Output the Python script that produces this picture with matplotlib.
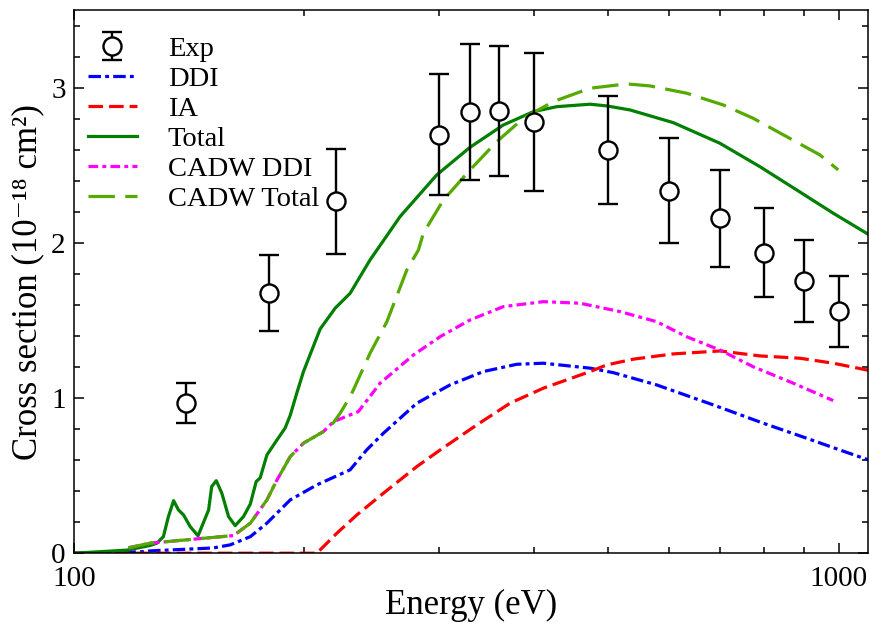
import matplotlib
matplotlib.use("Agg")
import matplotlib.pyplot as plt
from matplotlib import ticker

plt.rcParams['font.family'] = ['Liberation Serif', 'DejaVu Serif']
plt.rcParams['lines.scale_dashes'] = False

# experimental points
exp_e = [140, 180, 220, 300, 330, 360, 400, 500, 600, 700, 800, 900, 1000]
exp_cs = [0.97, 1.68, 2.27, 2.70, 2.845, 2.855, 2.78, 2.60, 2.34, 2.16, 1.94, 1.757, 1.56]
exp_err = [0.13, 0.245, 0.34, 0.39, 0.44, 0.42, 0.445, 0.35, 0.34, 0.315, 0.285, 0.263, 0.23]

# DDI
ddi_e = [100, 123.2, 125.8, 152.1, 160.1, 170.1, 178.8, 191.8, 207.8, 229.7, 241.5,
         253.9, 280.8, 310.4, 343.1, 379.4, 411.1, 473.1, 507.5, 578.1, 685.6,
         796.8, 908.2, 1004, 1100]
ddi_cs = [0.0, 0.01, 0.015, 0.034, 0.054, 0.107, 0.194, 0.344, 0.441, 0.538, 0.667,
          0.774, 0.968, 1.086, 1.172, 1.219, 1.226, 1.194, 1.165, 1.086, 0.957,
          0.839, 0.742, 0.666, 0.598]

# IA
ia_e = [100, 207.8, 220.7, 234.4, 253.9, 280.8, 301.2, 310.4, 336.4, 371.8, 411.1,
        473.1, 497.5, 538.9, 607.9, 699.5, 789, 890.1, 983.8, 1100]
ia_cs = [0.0, 0.0, 0.129, 0.247, 0.387, 0.559, 0.666, 0.71, 0.828, 0.968, 1.065,
         1.172, 1.215, 1.252, 1.286, 1.305, 1.273, 1.258, 1.226, 1.178]

# Total
tot_e = [100, 117.3, 125.8, 128.4, 130.9, 132.9, 135, 137, 139.1, 141.9, 145.3,
         150, 151.4, 153.5, 156.1, 159.3, 162.5, 166.6, 170.1, 173.1, 175.2,
         178.8, 184.3, 188.9, 191.8, 195.6, 199.6, 209.9, 219.6, 229.7, 243.9,
         267, 298.2, 329.6, 364.4, 398.9, 427.9, 473.1, 497.5, 533.5, 607.9,
         699.5, 789, 881.3, 983.8, 1100]
tot_cs = [0.0, 0.02, 0.05, 0.065, 0.107, 0.236, 0.339, 0.279, 0.247, 0.172, 0.112,
          0.279, 0.43, 0.468, 0.387, 0.236, 0.178, 0.236, 0.318, 0.462, 0.486,
          0.634, 0.731, 0.808, 0.89, 1.032, 1.172, 1.447, 1.581, 1.677, 1.892,
          2.172, 2.441, 2.619, 2.763, 2.849, 2.881, 2.897, 2.886, 2.86, 2.778,
          2.645, 2.494, 2.344, 2.194, 2.05]

# CADW DDI
cddi_e = [117.8, 125.8, 161.7, 170.1, 178.8, 184.3, 191.8, 199.6, 212, 218.5,
          235.5, 251.4, 277.9, 301.2, 329.6, 364.4, 411.1, 459, 517.7, 578.1,
          632.8, 699.5, 773.4, 872.4, 983.8]
cddi_cs = [0.035, 0.065, 0.114, 0.194, 0.344, 0.473, 0.623, 0.71, 0.785, 0.849,
           0.914, 1.097, 1.279, 1.397, 1.505, 1.591, 1.623, 1.613, 1.559, 1.494,
           1.397, 1.311, 1.203, 1.097, 0.985]

# CADW Total
ctot_e = [117.8, 125.8, 161.7, 170.1, 178.8, 184.3, 191.8, 199.6, 212, 218.5,
          222.9, 229.7, 232, 243.9, 256.6, 272.5, 282.2, 286.4, 304.2, 329.6,
          357.2, 387, 423.6, 473.1, 528.3, 566.6, 632.8, 706.6, 773.4, 855,
          945.2, 998.8]
ctot_cs = [0.035, 0.065, 0.114, 0.194, 0.344, 0.473, 0.623, 0.71, 0.785, 0.843,
           0.903, 1.01, 1.054, 1.29, 1.494, 1.828, 1.957, 2.065, 2.279, 2.473,
           2.655, 2.806, 2.914, 3.0, 3.028, 3.015, 2.968, 2.892, 2.806, 2.688,
           2.57, 2.473]

fig = plt.figure(figsize=(8.7, 6.23), dpi=100)
ax = fig.add_axes([0.085, 0.112, 0.9125, 0.872])

lw = 2.3
l_ddi, = ax.plot(ddi_e, ddi_cs, color='#0000ff', lw=lw, dashes=(9, 3, 2.8, 3), label='DDI')
l_ia, = ax.plot(ia_e, ia_cs, color='#ff0000', lw=lw, dashes=(10.5, 4.3), label='IA')
l_tot, = ax.plot(tot_e, tot_cs, color='#007f00', lw=lw, label='Total')
l_cddi, = ax.plot(cddi_e, cddi_cs, color='#ff00ff', lw=lw,
                  dashes=(7, 3, 2.8, 3), label='CADW DDI')
l_ctot, = ax.plot(ctot_e, ctot_cs, color='#55aa00', lw=lw, dashes=(19, 7.5), label='CADW Total')
h_exp = ax.errorbar(exp_e, exp_cs, yerr=exp_err, fmt='o', ms=13, mfc='white', mec='black',
                    mew=1.7, ecolor='black', elinewidth=1.7, capsize=7, capthick=1.7,
                    zorder=5, label='Exp')

ax.set_xscale('log')
ax.set_xlim(100, 1092)
ax.set_ylim(0, 3.505)

ax.xaxis.set_major_locator(ticker.FixedLocator([100, 1000]))
ax.xaxis.set_major_formatter(ticker.FixedFormatter(['100', '1000']))
ax.xaxis.set_minor_locator(ticker.FixedLocator([200, 300, 400, 500, 600, 700, 800, 900]))
ax.xaxis.set_minor_formatter(ticker.NullFormatter())
ax.yaxis.set_major_locator(ticker.MultipleLocator(1))
ax.yaxis.set_minor_locator(ticker.MultipleLocator(0.2))

ax.tick_params(which='both', direction='in', top=True, right=True, width=1.1)
ax.tick_params(which='major', length=7, labelsize=21)
ax.tick_params(axis='x', which='major', pad=9)
ax.tick_params(axis='y', which='major', pad=6)
ax.tick_params(which='minor', length=4)
for s in ax.spines.values():
    s.set_linewidth(1.1)

ax.set_xlabel('Energy (eV)', fontsize=25, labelpad=-2)
ax.set_ylabel('Cross section (10⁻¹⁸ cm²)', fontsize=25, labelpad=5)

ax.legend([h_exp, l_ddi, l_ia, l_tot, l_cddi, l_ctot],
          ['Exp', 'DDI', 'IA', 'Total', 'CADW DDI', 'CADW Total'],
          loc='upper left', frameon=False, fontsize=20.5, handlelength=1.7,
          handletextpad=1.1, labelspacing=0.14, borderaxespad=0.1,
          bbox_to_anchor=(0.0, 0.978))

fig.savefig('out.png', dpi=100)
